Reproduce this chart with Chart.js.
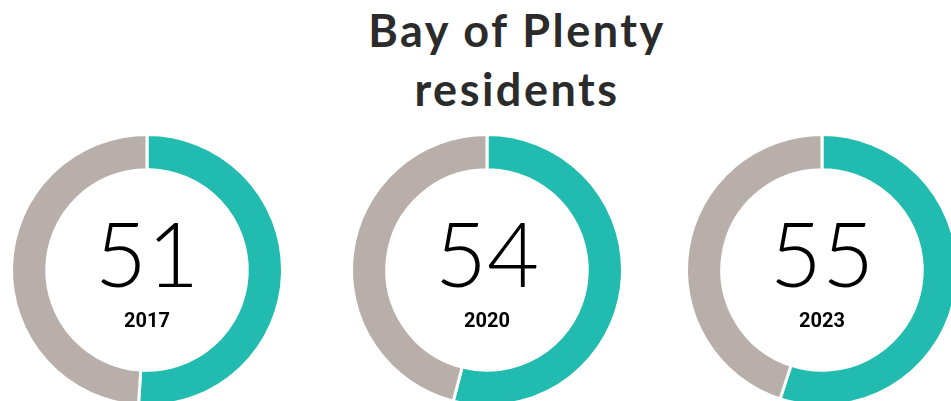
<!DOCTYPE html>
<html>
<head>
<meta charset="utf-8">
<script src="https://cdn.jsdelivr.net/npm/chart.js@4"></script>
<style>
  html, body { margin: 0; padding: 0; background: #fff; }
  body { width: 951px; height: 401px; position: relative; overflow: hidden; }
  #title {
    position: absolute; left: 317px; top: 1px; width: 400px;
    text-align: center; margin: 0;
    font-family: Lato, "Open Sans", sans-serif; font-weight: 700;
    font-size: 45px; line-height: 59px; letter-spacing: 2.5px; color: #2b2b2b;
  }
  .ring { position: absolute; width: 280px; height: 280px; }
</style>
</head>
<body>
<h1 id="title">Bay of Plenty<br>residents</h1>
<canvas id="ring0" class="ring" width="280" height="280"></canvas>
<canvas id="ring1" class="ring" width="280" height="280"></canvas>
<canvas id="ring2" class="ring" width="280" height="280"></canvas>
<script>
// values
var years = ['2017', '2020', '2023'];
var scores = [51, 54, 55];
var segmentLabels = ['Agree', 'Other'];

var teal = '#21bbaf';
var grey = '#b8afaa';

// where each ring sits on the page
var centresX = [147, 487, 822];
var centreY = 270;

var centreText = {
    id: 'centreText',
    afterDraw: function (chart) {
        var ctx = chart.ctx;
        var arc = chart.getDatasetMeta(0).data[0];
        var x = arc.x, y = arc.y;
        ctx.save();
        ctx.fillStyle = '#000';
        ctx.textAlign = 'center';
        ctx.textBaseline = 'alphabetic';
        ctx.font = '300 90px Lato, "Open Sans", sans-serif';
        ctx.fillText(chart.options.plugins.centreText.value, x, y + 17);
        ctx.font = 'bold 20px Roboto, "Liberation Sans", sans-serif';
        ctx.fillText(chart.options.plugins.centreText.year, x, y + 57);
        ctx.restore();
    }
};

years.forEach(function (year, i) {
    var canvas = document.getElementById('ring' + i);
    canvas.style.left = (centresX[i] - 140) + 'px';
    canvas.style.top = (centreY - 140) + 'px';

    new Chart(canvas.getContext('2d'), {
        type: 'doughnut',
        data: {
            labels: segmentLabels,
            datasets: [{
                data: [scores[i], 100 - scores[i]],
                backgroundColor: [teal, grey],
                borderColor: '#ffffff',
                borderWidth: 3
            }]
        },
        options: {
            responsive: false,
            animation: false,
            cutout: '74%',
            layout: { padding: 3 },
            plugins: {
                legend: { display: false },
                tooltip: { enabled: false },
                centreText: { value: String(scores[i]), year: year }
            }
        },
        plugins: [centreText]
    });
});
</script>
</body>
</html>
